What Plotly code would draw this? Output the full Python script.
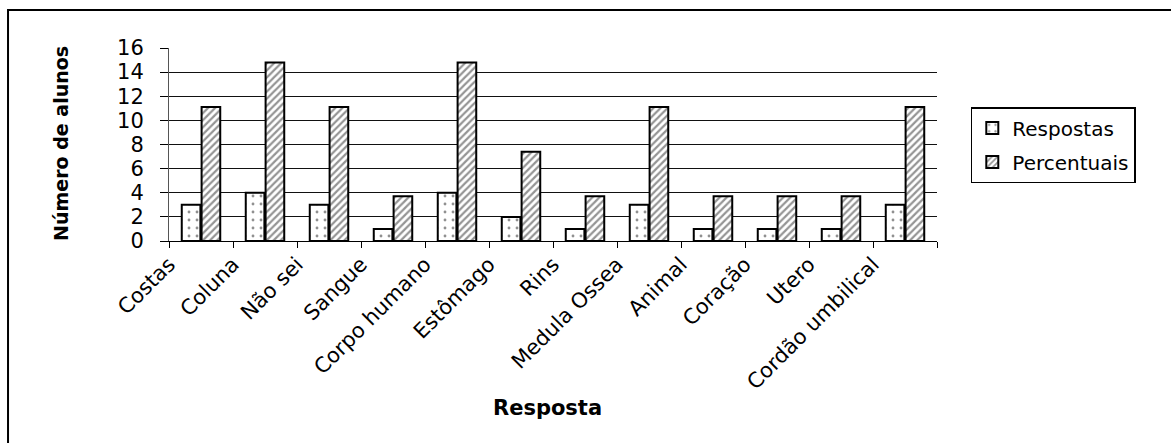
import plotly.graph_objects as go

# Categories of answers and the two series
categorias = ["Costas", "Coluna", "Não sei", "Sangue", "Corpo humano", "Estômago",
              "Rins", "Medula Ossea", "Animal", "Coração", "Utero", "Cordão umbilical"]
respostas = [3, 4, 3, 1, 4, 2, 1, 3, 1, 1, 1, 3]
percentuais = [11.1, 14.8, 11.1, 3.7, 14.8, 7.4, 3.7, 11.1, 3.7, 3.7, 3.7, 11.1]
y_ticks = [0, 2, 4, 6, 8, 10, 12, 14, 16]

FONT = "DejaVu Sans"

fig = go.Figure()
fig.add_trace(go.Bar(
    x=categorias, y=respostas, name="Respostas", legendgroup="a",
    marker=dict(color="white", line=dict(color="black", width=2),
                pattern=dict(shape=".", size=8, solidity=0.1,
                             fgcolor="#222222", bgcolor="white")),
))
fig.add_trace(go.Bar(
    x=categorias, y=percentuais, name="Percentuais", legendgroup="b",
    marker=dict(color="white", line=dict(color="black", width=2),
                pattern=dict(shape="/", size=5, solidity=0.45,
                             fgcolor="#2a2a2a", bgcolor="white")),
))

n = len(categorias)
fig.update_layout(
    width=1171, height=443,
    margin=dict(l=169, r=234, t=48, b=202),
    paper_bgcolor="white", plot_bgcolor="white",
    barmode="group", bargap=0.38, bargroupgap=0.06,
    showlegend=True,
    legend=dict(x=1.044, y=0.694, xanchor="left", yanchor="top",
                bordercolor="black", borderwidth=1.5,
                font=dict(family=FONT, size=20, color="black"),
                tracegroupgap=5, traceorder="grouped"),
    xaxis=dict(type="category", categoryorder="array", categoryarray=categorias,
               range=[-0.5, n - 0.5], showticklabels=False,
               showline=True, linecolor="black", linewidth=1,
               ticks="outside", tickson="boundaries", ticklen=6,
               tickcolor="black", showgrid=False, zeroline=False),
    # label axis shifted half a category so the slanted names end at the boundaries
    xaxis2=dict(overlaying="x", anchor="y", side="bottom", range=[0, n],
                tickmode="array", tickvals=list(range(n)), ticktext=categorias,
                tickangle=-45, ticks="", showgrid=False, zeroline=False,
                showline=False, ticklabelstandoff=6,
                tickfont=dict(family=FONT, size=21, color="black")),
    yaxis=dict(range=[0, 16], tickmode="array", tickvals=y_ticks,
               showgrid=True, gridcolor="#111111", gridwidth=1,
               showline=True, linecolor="#555555", linewidth=1,
               ticks="outside", ticklen=8, tickcolor="black",
               ticklabelstandoff=12, zeroline=False,
               tickfont=dict(family=FONT, size=21, color="black")),
)

# dummy invisible trace so the label axis is rendered
fig.add_trace(go.Scatter(x=[0], y=[0], xaxis="x2", mode="markers",
                         marker=dict(opacity=0), showlegend=False, hoverinfo="skip"))

fig.add_annotation(text="<b>Resposta</b>", xref="paper", yref="paper",
                   x=0.493, y=-0.865, xanchor="center", yanchor="middle",
                   showarrow=False, font=dict(family=FONT, size=21, color="black"))
fig.add_annotation(text="<b>Número de alunos</b>", xref="paper", yref="paper",
                   x=-0.1406, y=0.503, xanchor="center", yanchor="middle",
                   textangle=-90, showarrow=False,
                   font=dict(family=FONT, size=19, color="black"))

# outer frame around the chart
fig.add_shape(type="rect", xref="paper", yref="paper",
              x0=-0.2096, x1=1.31, y0=-1.07, y1=1.197,
              line=dict(color="black", width=2), fillcolor="rgba(0,0,0,0)", layer="below")

fig.write_html("out.html")
